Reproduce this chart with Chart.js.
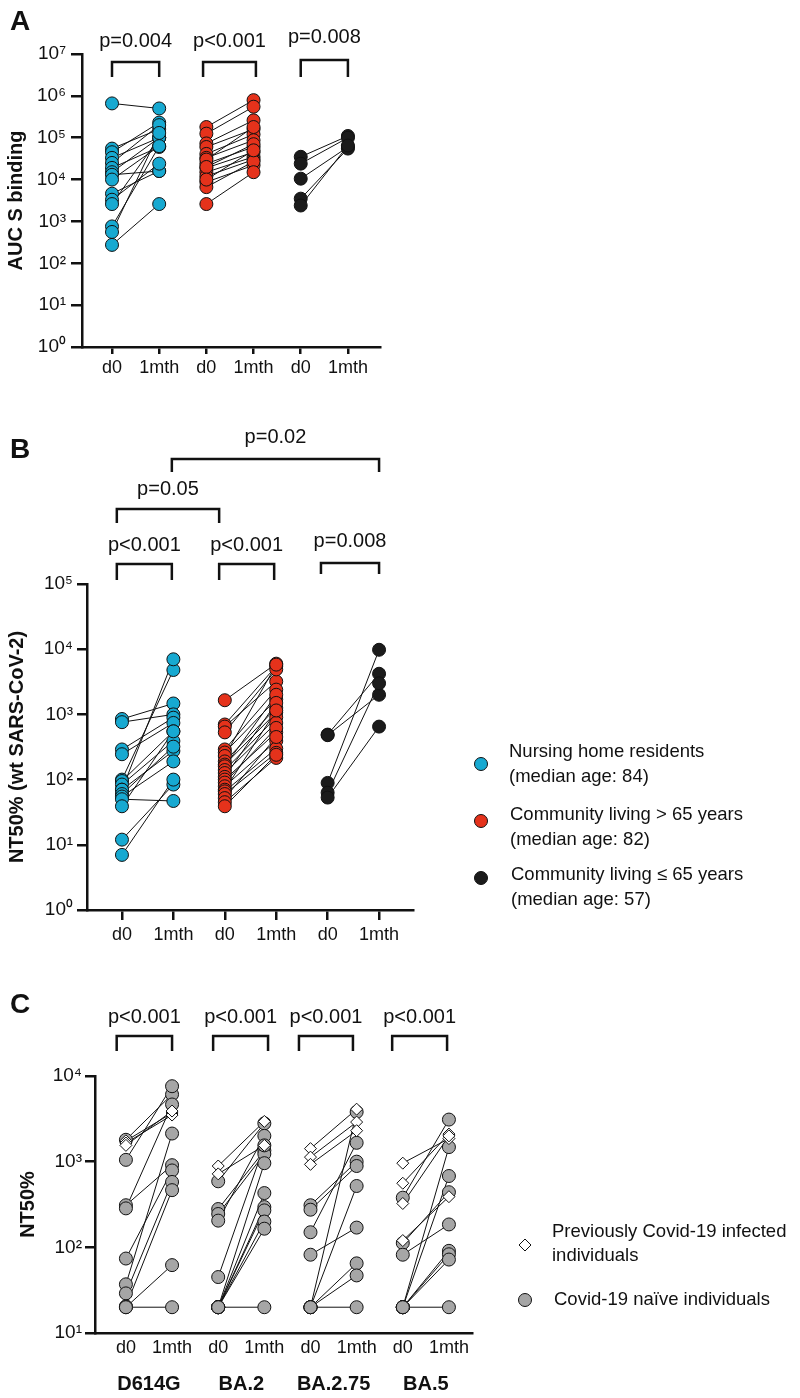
<!DOCTYPE html>
<html><head><meta charset="utf-8">
<script src="https://cdn.jsdelivr.net/npm/chart.js@4.4.1/dist/chart.umd.min.js"></script>
<style>
html,body{margin:0;padding:0;background:#fff;width:800px;height:1398px;overflow:hidden;}
canvas{position:absolute;left:0;}
</style></head><body>
<canvas id="cA" width="800" height="400" style="top:0px"></canvas>
<canvas id="cB" width="800" height="560" style="top:400px"></canvas>
<canvas id="cC" width="800" height="438" style="top:960px"></canvas>
<script>
// ---------- DATA ----------
const tickLabelsAB = ['d0','1mth','d0','1mth','d0','1mth'];
const tickLabelsC = ['d0','1mth','d0','1mth','d0','1mth','d0','1mth'];
const variantsC = ['D614G','BA.2','BA.2.75','BA.5'];

// Panel A: AUC S binding (pairs: d0[i] -> 1mth[i])
const aBlueD0  = [660000, 55000, 45000, 33000, 25000, 19000, 15000, 13000, 10000, 4600, 3300, 2600, 760, 560, 275];
const aBlueM1  = [500000, 160000, 230000, 100000, 200000, 60000, 100000, 16000, 63000, 16000, 24000, 100000, 63000, 130000, 2600];
const aRedD0   = [180000, 125000, 73000, 60000, 41000, 33000, 24000, 19000, 15000, 12000, 8700, 6600, 2600, 30000, 20000, 10000];
const aRedM1   = [790000, 550000, 260000, 160000, 120000, 87000, 60000, 45000, 35000, 30000, 22000, 27000, 15000, 180000, 70000, 50000];
const aBlackD0 = [35000, 24000, 10500, 3500, 2400];
const aBlackM1 = [110000, 100000, 60000, 55000, 65000];

// Panel B: NT50% (wt SARS-CoV-2)
const bBlueD0  = [850, 760, 290, 245, 100, 95, 84, 70, 70, 60, 55, 50, 39, 12, 7];
const bBlueM1  = [1470, 1000, 890, 740, 4800, 550, 390, 7000, 275, 320, 190, 47, 550, 84, 100];
const bRedD0   = [1650, 700, 650, 530, 290, 260, 230, 190, 170, 160, 140, 126, 110, 100, 90, 79, 70, 66, 60, 52, 45, 39];
const bRedM1   = [6000, 5500, 3200, 4900, 2400, 1700, 5800, 1260, 1070, 2000, 900, 740, 1500, 530, 620, 390, 1150, 300, 257, 450, 215, 240];
const bBlackD0 = [490, 480, 89, 63, 53];
const bBlackM1 = [4200, 2000, 9800, 3000, 650];

// Panel C: NT50% per variant; infected (diamonds) and naive (circles)
const cInfD0 = [[1750, 1650, 1550], [890, 720], [1420, 1130, 930], [960, 560, 325, 120]];
const cInfM1 = [[3700, 3500, 3900], [2950, 1550], [4100, 2900, 2300], [1860, 2100, 2000, 390]];
const cNaiD0 = [[1800, 1050, 310, 285, 74, 37, 29, 20.5, 20, 20],
                [590, 280, 245, 205, 45, 20, 20, 20, 20, 20, 20, 20],
                [310, 275, 150, 82, 20, 20, 20, 20, 20],
                [380, 112, 82, 20, 20, 20, 20, 20, 20]];
const cNaiM1 = [[6100, 7600, 910, 4650, 790, 2130, 580, 465, 62, 20],
                [2800, 1350, 1230, 2000, 1550, 960, 430, 295, 270, 200, 165, 20],
                [1000, 890, 1660, 170, 3800, 520, 65, 47, 20],
                [3100, 440, 185, 1480, 680, 91, 83, 72, 20]];

// ---------- STYLE ----------
const FONT = '"Liberation Sans", Arial, Helvetica, sans-serif';
const BLUE = '#17A9D1', RED = '#E5321B', BLACK = '#1B1B1B', GREY = '#A6A6A6', INK = '#111111';
Chart.defaults.font.family = FONT;
Chart.defaults.color = INK;

const SUP = {'0':'\u2070','1':'\u00B9','2':'\u00B2','3':'\u00B3','4':'\u2074','5':'\u2075','6':'\u2076','7':'\u2077'};
function powLabel(v){ const e = Math.round(Math.log10(v)); return '10' + String(e).split('').map(c=>SUP[c]).join(''); }

function lineData(x0, d0, m1){
  const out = [];
  d0.forEach((v,i)=>{ out.push({x:x0,y:v},{x:x0+1,y:m1[i]},{x:x0+0.5,y:null}); });
  return out;
}
function ptData(x0, d0, m1){
  return d0.map(v=>({x:x0,y:v})).concat(m1.map(v=>({x:x0+1,y:v})));
}
function lineDs(x0,d0,m1){
  return {type:'line', data:lineData(x0,d0,m1), borderColor:INK, borderWidth:1, pointRadius:0, spanGaps:false, fill:false, order:5};
}
function ptDs(x0,d0,m1,color,style,order){
  return {type:'scatter', data:ptData(x0,d0,m1), backgroundColor:color, borderColor:INK, borderWidth:1,
          pointRadius: style==='rectRot'?6:6.5, pointStyle:style||'circle', showLine:false, order:order||1};
}

function yScale(min,max,width,tickLen,pad,title,titlePad){
  return {
    type:'logarithmic', min:min, max:max, position:'left',
    afterBuildTicks: ax => { const t=[]; for(let e=Math.round(Math.log10(min)); e<=Math.round(Math.log10(max)); e++) t.push({value:Math.pow(10,e), major:false}); ax.ticks=t; },
    afterFit: ax => { ax.width = width; },
    ticks:{callback:(v)=>powLabel(v), font:{family:FONT,size:19}, color:INK, padding:pad, autoSkip:false},
    grid:{display:true, drawOnChartArea:false, drawTicks:true, tickLength:tickLen, color:INK, lineWidth:2.5},
    border:{display:true, color:INK, width:2.5},
    title:{display:true, text:title, font:{family:FONT,size:20,weight:'bold'}, color:INK, padding:{top:titlePad,bottom:0}}
  };
}
function xScale(min,max,labels,height,drawTicks,tickLen,pad){
  return {
    type:'linear', min:min, max:max, position:'bottom',
    afterBuildTicks: ax => { ax.ticks = labels.map((l,i)=>({value:i})); },
    afterFit: ax => { ax.height = height; },
    ticks:{callback:(v,i)=>labels[i], font:{family:FONT,size:18}, color:INK, padding:pad, autoSkip:false, maxRotation:0, includeBounds:false},
    grid:{display:true, drawOnChartArea:false, drawTicks:drawTicks, tickLength:tickLen, color:INK, lineWidth:2.5},
    border:{display:true, color:INK, width:2.5}
  };
}

// annotation plugin: brackets, p-values, panel letters, legends, group labels
const annot = {
  id:'annot',
  afterDraw(chart, args, o){
    const ctx = chart.ctx, xs = chart.scales.x, off = o.offsetY||0;
    ctx.save();
    (o.brackets||[]).forEach(b=>{
      const x1 = xs.getPixelForValue(b.x1), x2 = xs.getPixelForValue(b.x2);
      ctx.strokeStyle = INK; ctx.lineWidth = 2.5; ctx.lineJoin='miter'; ctx.lineCap='butt';
      ctx.beginPath(); ctx.moveTo(x1,b.yb-off); ctx.lineTo(x1,b.yt-off); ctx.lineTo(x2,b.yt-off); ctx.lineTo(x2,b.yb-off); ctx.stroke();
      ctx.font = '20px '+FONT; ctx.fillStyle = INK; ctx.textAlign='center'; ctx.textBaseline='alphabetic';
      ctx.fillText(b.text,(x1+x2)/2,b.ty-off);
    });
    (o.texts||[]).forEach(t=>{
      ctx.font = t.font; ctx.fillStyle = INK; ctx.textAlign = t.align||'left'; ctx.textBaseline = t.base||'alphabetic';
      const x = (t.xv!==undefined) ? xs.getPixelForValue(t.xv) : t.x;
      ctx.fillText(t.text, x, t.y-off);
    });
    (o.legend||[]).forEach(l=>{
      const y = l.my-off;
      ctx.fillStyle = l.color; ctx.strokeStyle = INK; ctx.lineWidth = 1;
      ctx.beginPath();
      if(l.shape==='diamond'){ const r=6; ctx.moveTo(l.mx-r,y); ctx.lineTo(l.mx,y-r); ctx.lineTo(l.mx+r,y); ctx.lineTo(l.mx,y+r); ctx.closePath(); }
      else { ctx.arc(l.mx,y,l.r||6.5,0,Math.PI*2); }
      ctx.fill(); ctx.stroke();
      ctx.font = '18.5px '+FONT; ctx.fillStyle = INK; ctx.textAlign='left'; ctx.textBaseline='middle';
      l.lines.forEach((s,i)=>ctx.fillText(s,l.tx,l.ty[i]-off));
    });
    ctx.restore();
  }
};

const common = (pad)=>({
  responsive:false, devicePixelRatio:1, animation:false, events:[],
  layout:{padding:pad},
  plugins:{legend:{display:false}, tooltip:{enabled:false}}
});

// ---------- PANEL A ----------
const optA = common({top:54,right:420,bottom:0,left:0});
optA.scales = { x: xScale(-0.636,5.68,tickLabelsAB,53,true,7,3), y: yScale(1,1e7,82,11,5,'AUC S binding',4) };
optA.plugins.annot = {offsetY:0,
  brackets:[
    {x1:0,x2:1,yt:62,yb:77,text:'p=0.004',ty:47},
    {x1:1.93,x2:3.05,yt:62,yb:77,text:'p<0.001',ty:47},
    {x1:4,x2:5,yt:60,yb:77,text:'p=0.008',ty:43}
  ],
  texts:[{text:'A',x:10,y:30,font:'bold 28px '+FONT}]
};
new Chart(document.getElementById('cA'),{type:'scatter',
  data:{datasets:[
    lineDs(0,aBlueD0,aBlueM1), ptDs(0,aBlueD0,aBlueM1,BLUE),
    lineDs(2,aRedD0,aRedM1), ptDs(2,aRedD0,aRedM1,RED),
    lineDs(4,aBlackD0,aBlackM1), ptDs(4,aBlackD0,aBlackM1,BLACK)
  ]}, options:optA, plugins:[annot]});

// ---------- PANEL B ----------
const optB = common({top:184,right:387,bottom:0,left:0});
optB.scales = { x: xScale(-0.68,5.66,tickLabelsAB,50,true,10,4), y: yScale(1,1e5,87,10,4,'NT50% (wt SARS-CoV-2)',5.5) };
optB.plugins.annot = {offsetY:400,
  brackets:[
    {x1:0.97,x2:5.0,yt:459,yb:472,text:'p=0.02',ty:443},
    {x1:-0.1,x2:1.89,yt:509,yb:523,text:'p=0.05',ty:495},
    {x1:-0.1,x2:0.97,yt:564,yb:580,text:'p<0.001',ty:551},
    {x1:1.89,x2:2.96,yt:564,yb:580,text:'p<0.001',ty:551},
    {x1:3.87,x2:5.0,yt:563,yb:574,text:'p=0.008',ty:547}
  ],
  texts:[{text:'B',x:10,y:458,font:'bold 28px '+FONT}],
  legend:[
    {shape:'circle',color:BLUE,mx:481,my:764,tx:509,ty:[752,777],lines:['Nursing home residents','(median age: 84)']},
    {shape:'circle',color:RED,mx:481,my:821,tx:510,ty:[815,840],lines:['Community living > 65 years','(median age: 82)']},
    {shape:'circle',color:BLACK,mx:481,my:878,tx:511,ty:[875,900],lines:['Community living \u2264 65 years','(median age: 57)']}
  ]
};
new Chart(document.getElementById('cB'),{type:'scatter',
  data:{datasets:[
    lineDs(0,bBlueD0,bBlueM1), ptDs(0,bBlueD0,bBlueM1,BLUE),
    lineDs(2,bRedD0,bRedM1), ptDs(2,bRedD0,bRedM1,RED),
    lineDs(4,bBlackD0,bBlackM1), ptDs(4,bBlackD0,bBlackM1,BLACK)
  ]}, options:optB, plugins:[annot]});

// ---------- PANEL C ----------
const optC = common({top:116,right:328,bottom:0,left:0});
optC.scales = { x: xScale(-0.67,7.5,tickLabelsC,65,false,0,4), y: yScale(10,1e4,95,10,3,'NT50%',16) };
const bracketXC = [[-0.2,1.0],[1.89,3.08],[3.75,4.92],[5.77,6.96]];
optC.plugins.annot = {offsetY:960,
  brackets: bracketXC.map(b=>({x1:b[0],x2:b[1],yt:1036,yb:1051,text:'p<0.001',ty:1023})),
  texts: [{text:'C',x:10,y:1013,font:'bold 28px '+FONT}].concat(
    variantsC.map((v,i)=>({text:v,xv:2*i+0.5,y:1390,align:'center',font:'bold 20px '+FONT}))),
  legend:[
    {shape:'diamond',color:'#FFFFFF',mx:525,my:1245,tx:552,ty:[1232,1256],lines:['Previously Covid-19 infected','individuals']},
    {shape:'circle',color:GREY,mx:525,my:1300,tx:554,ty:[1300],lines:['Covid-19 na\u00EFve individuals']}
  ]
};
const dsC = [];
variantsC.forEach((v,i)=>{
  dsC.push(lineDs(2*i,cNaiD0[i],cNaiM1[i]));
  dsC.push(lineDs(2*i,cInfD0[i],cInfM1[i]));
  dsC.push(ptDs(2*i,cNaiD0[i],cNaiM1[i],GREY,'circle',2));
  dsC.push(ptDs(2*i,cInfD0[i],cInfM1[i],'#FFFFFF','rectRot',1));
});
new Chart(document.getElementById('cC'),{type:'scatter', data:{datasets:dsC}, options:optC, plugins:[annot]});
</script>
</body></html>
